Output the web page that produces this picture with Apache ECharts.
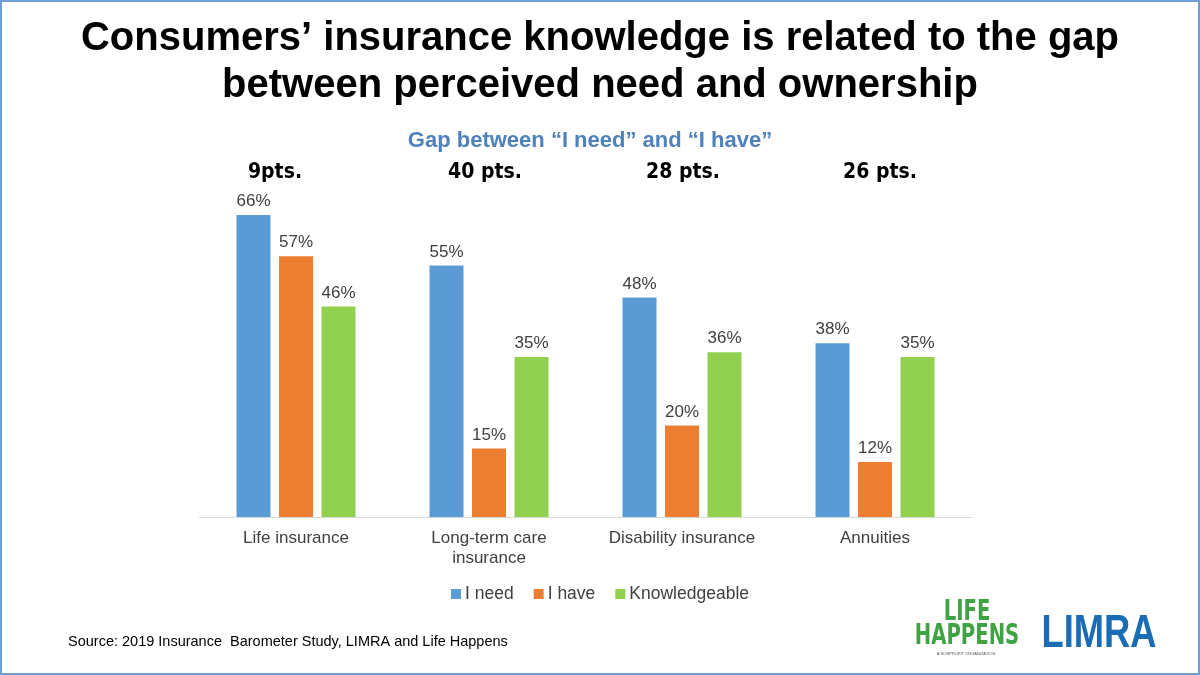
<!DOCTYPE html>
<html>
<head>
<meta charset="utf-8">
<script src="https://cdn.jsdelivr.net/npm/echarts@6/dist/echarts.min.js"></script>
<style>
html,body{margin:0;padding:0;background:#fff;}
#wrap{position:absolute;left:0;top:0;width:1196px;height:671px;border:2px solid #6d9fd6;background:#fff;}
#chart{width:1196px;height:671px;}
</style>
</head>
<body>
<div id="wrap"><div id="chart"></div></div>
<script>
const categories = ['Life insurance', 'Long-term care\ninsurance', 'Disability insurance', 'Annuities'];
const iNeed = [66, 55, 48, 38];
const iHave = [57, 15, 20, 12];
const knowledgeable = [46, 35, 36, 35];
const gapLabels = ['9pts.', '40 pts.', '28 pts.', '26 pts.'];

const chart = echarts.init(document.getElementById('chart'));
const labelStyle = {show: true, position: 'top', formatter: '{c}%', color: '#404040', fontSize: 17, fontFamily: 'Liberation Sans, Arial', distance: 5};
const option = {
  animation: false,
  title: [
    {text: 'Consumers\u2019 insurance knowledge is related to the gap\nbetween perceived need and ownership', left: 'center', top: 8,
     textStyle: {fontSize: 40, fontWeight: 'bold', color: '#000', fontFamily: 'Liberation Sans, Arial', lineHeight: 47}},
    {text: 'Gap between \u201cI need\u201d and \u201cI have\u201d', left: 583, textAlign: 'center', top: 123,
     textStyle: {fontSize: 22, fontWeight: 'bold', color: '#4f81bd', fontFamily: 'Liberation Sans, Arial'}},
    {text: 'Source: 2019 Insurance  Barometer Study, LIMRA and Life Happens', left: 61, top: 627,
     textStyle: {fontSize: 14.5, fontWeight: 'normal', color: '#000', fontFamily: 'Liberation Sans, Arial'}}
  ],
  legend: {
    data: ['I need', 'I have', 'Knowledgeable'], left: 'center', top: 578,
    icon: 'rect', itemWidth: 10, itemHeight: 10, itemGap: 20,
    textStyle: {fontSize: 17.5, color: '#404040', fontFamily: 'Liberation Sans, Arial', padding: [0, 0, 0, -1]}
  },
  grid: {left: 197.5, right: 1196 - 969.5, top: 149, bottom: 671 - 515, containLabel: false},
  xAxis: {
    type: 'category', data: categories,
    axisLine: {lineStyle: {color: '#d9d9d9', width: 1}},
    axisTick: {show: false},
    axisLabel: {interval: 0, color: '#404040', fontSize: 17, fontFamily: 'Liberation Sans, Arial', margin: 11, lineHeight: 20}
  },
  yAxis: {type: 'value', min: 0, max: 80, show: false, splitLine: {show: false}},
  series: [
    {name: 'I need', type: 'bar', data: iNeed, barWidth: 34, barGap: '25%', itemStyle: {color: '#5b9bd5'}, label: labelStyle},
    {name: 'I have', type: 'bar', data: iHave, barWidth: 34, barGap: '25%', itemStyle: {color: '#ed7d31'}, label: labelStyle},
    {name: 'Knowledgeable', type: 'bar', data: knowledgeable, barWidth: 34, barGap: '25%', itemStyle: {color: '#92d050'}, label: labelStyle}
  ]
};
chart.setOption(option);

const gapShift = [-21, -4, 1, 5];
const gfx = gapLabels.map((t, i) => {
  const x = chart.convertToPixel({xAxisIndex: 0}, i);
  return {type: 'text', x: x + gapShift[i], y: 171,
    style: {text: t, fill: '#000', font: 'bold 21px "DejaVu Sans Condensed", "Liberation Sans Narrow", Arial', textAlign: 'center', textVerticalAlign: 'middle'}};
});
gfx.push(
  {type: 'text', x: 965, y: 623, scaleX: 0.78, style: {text: 'LIFE\nHAPPENS', fill: '#3fa243', font: 'bold 28px "Liberation Sans Narrow", "DejaVu Sans Condensed", Arial', textAlign: 'center', textVerticalAlign: 'middle', lineHeight: 24}},
  {type: 'text', x: 964, y: 652, style: {text: 'A NONPROFIT ORGANIZATION', fill: '#555', font: '4px Arial', textAlign: 'center', textVerticalAlign: 'middle'}},
  {type: 'text', x: 1097, y: 632, scaleX: 0.79, style: {text: 'LIMRA', fill: '#1a6db5', font: '900 46px "Liberation Sans", Arial', textAlign: 'center', textVerticalAlign: 'middle'}}
);
chart.setOption({graphic: gfx});
</script>
</body>
</html>
